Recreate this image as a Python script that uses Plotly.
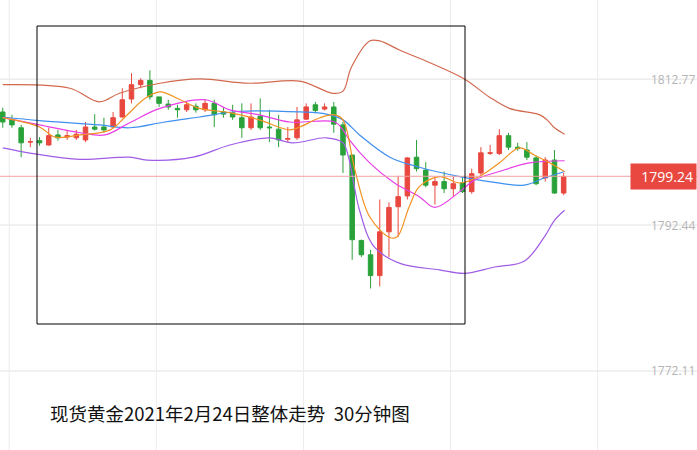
import plotly.graph_objects as go

# candle data (30 min bars)
opens = [1808.2, 1807.1, 1806.0, 1804.0, 1804.2, 1803.6, 1805.0, 1804.7, 1804.6, 1804.3,
         1806.1, 1806.1, 1806.1, 1807.5, 1810.0, 1812.0, 1812.6, 1810.3, 1809.3, 1808.7,
         1808.5, 1809.0, 1808.5, 1809.4, 1808.2, 1808.1, 1807.4, 1806.0, 1807.6, 1806.1,
         1805.8, 1804.4, 1804.6, 1807.2, 1809.2, 1808.6, 1808.9, 1806.4, 1802.2, 1790.3,
         1788.3, 1785.4, 1791.5, 1795.0, 1796.5, 1801.9, 1800.1, 1798.0, 1798.5, 1797.5,
         1798.3, 1797.1, 1799.7, 1802.45, 1802.4, 1804.9, 1803.3, 1802.9, 1801.8, 1799.0,
         1801.5, 1796.9]
closes = [1806.8, 1806.4, 1803.9, 1804.05, 1803.9, 1804.9, 1804.6, 1804.9, 1805.1, 1806.1,
          1805.8, 1805.7, 1807.4, 1809.9, 1812.0, 1812.6, 1810.3, 1809.4, 1808.9, 1808.5,
          1809.2, 1808.5, 1809.4, 1807.8, 1807.9, 1807.5, 1806.0, 1807.5, 1806.0, 1806.0,
          1804.3, 1804.5, 1807.1, 1808.9, 1808.4, 1808.9, 1806.5, 1802.2, 1790.4, 1788.3,
          1785.4, 1791.5, 1794.9, 1796.4, 1801.8, 1800.3, 1798.0, 1798.5, 1797.5, 1798.2,
          1797.1, 1799.6, 1802.5, 1802.5, 1804.9, 1803.3, 1803.1, 1801.9, 1798.2, 1801.5,
          1796.9, 1799.2]
highs = [1808.8, 1807.8, 1806.4, 1804.6, 1804.7, 1806.0, 1805.7, 1805.7, 1805.7, 1806.8,
         1807.9, 1807.4, 1808.2, 1811.5, 1813.6, 1812.9, 1814.0, 1810.3, 1809.9, 1809.2,
         1809.6, 1809.4, 1810.0, 1809.9, 1808.8, 1809.2, 1809.4, 1809.4, 1810.1, 1808.5,
         1807.8, 1806.1, 1808.9, 1809.4, 1809.6, 1809.4, 1809.6, 1806.8, 1802.2, 1790.4,
         1789.0, 1796.0, 1795.6, 1799.3, 1801.9, 1804.3, 1801.2, 1799.0, 1799.9, 1799.2,
         1799.2, 1800.3, 1803.3, 1803.6, 1805.8, 1805.3, 1803.9, 1804.0, 1802.1, 1801.9,
         1802.9, 1799.7]
lows = [1806.0, 1806.0, 1801.9, 1803.3, 1803.5, 1803.5, 1804.2, 1804.3, 1804.3, 1804.0,
        1805.6, 1805.3, 1806.0, 1807.4, 1809.4, 1811.5, 1809.9, 1808.9, 1808.5, 1807.4,
        1808.2, 1808.1, 1808.2, 1806.1, 1807.4, 1807.1, 1804.6, 1805.7, 1805.7, 1804.0,
        1803.3, 1804.0, 1804.3, 1807.1, 1808.1, 1808.4, 1805.3, 1799.7, 1787.6, 1788.0,
        1783.6, 1783.9, 1788.0, 1790.8, 1796.0, 1799.9, 1797.7, 1795.3, 1796.9, 1796.4,
        1796.9, 1796.8, 1799.4, 1802.2, 1802.2, 1802.9, 1802.8, 1801.5, 1798.0, 1798.5,
        1796.8, 1796.6]
bars = list(range(len(opens)))

# indicator lines (bar index, price)
boll_up_x = [0, 7.3, 10.5, 12.7, 17.1, 21.4, 26.8, 32.3, 35.9, 37, 37.9, 39.9, 41, 43.2,
             46.4, 50.2, 52.9, 55.1, 58.4, 59.2, 60, 61.1]
boll_up_y = [1812.0, 1811.5, 1809.6, 1810.8, 1812.2, 1812.8, 1812.2, 1812.5, 1810.8, 1811.1,
             1814.4, 1818.1, 1818.1, 1816.8, 1815.1, 1812.8, 1810.3, 1808.7, 1807.8, 1807.1,
             1806.0, 1805.1]
boll_dn_x = [0, 3.3, 8.4, 13.8, 15.7, 20.7, 24.7, 29, 31.5, 35.2, 37, 37.6, 38.8, 40.4, 43.2,
             47.5, 50.2, 53.5, 56.7, 58.9, 60, 61.1]
boll_dn_y = [1803.2, 1802.4, 1801.6, 1801.9, 1801.5, 1801.9, 1803.6, 1804.6, 1803.9, 1804.6,
             1803.9, 1801.9, 1794.5, 1789.4, 1787.1, 1786.2, 1785.7, 1786.6, 1787.4, 1790.8,
             1793.1, 1794.5]
ma20_x = [0, 4, 10.5, 13.8, 17.6, 21.4, 25.8, 32.3, 35.2, 37, 38.8, 42.1, 45.3, 49.7, 52.9,
          56.7, 58.9, 61.1]
ma20_y = [1807.5, 1807.0, 1806.4, 1806.0, 1806.8, 1807.5, 1808.3, 1808.2, 1807.9, 1807.1,
          1805.0, 1801.9, 1800.5, 1799.2, 1798.5, 1798.0, 1799.0, 1799.9]
ma10_x = [0, 4, 8.4, 11.1, 13.8, 17.1, 22, 24.7, 27.9, 31.2, 36.1, 37, 37.7, 39.9, 42.6, 45.3,
          47, 49.7, 51.3, 54, 57.3, 61.1]
ma10_y = [1807.4, 1806.4, 1805.3, 1805.0, 1806.7, 1808.7, 1809.9, 1808.5, 1807.8, 1806.8,
          1806.8, 1805.7, 1804.3, 1801.1, 1798.3, 1796.4, 1794.9, 1797.1, 1798.7, 1799.9,
          1801.1, 1801.4]
ma5_x = [0, 4, 5.7, 8.4, 11.7, 13.3, 15.5, 17.1, 19.3, 21.4, 24.7, 27.9, 31.2, 32.3, 34.5,
         36.1, 37, 38.3, 39.9, 42.1, 42.9, 44.2, 45.3, 47.5, 49.7, 51.8, 54, 56.2, 57.8, 59.5, 61.1]
ma5_y = [1807.4, 1806.1, 1804.7, 1805.0, 1805.7, 1807.5, 1810.1, 1811.0, 1809.9, 1808.7,
         1808.1, 1807.1, 1805.7, 1806.1, 1807.4, 1807.8, 1807.1, 1800.1, 1793.6, 1790.7,
         1790.8, 1795.0, 1797.8, 1799.2, 1798.3, 1799.2, 1801.1, 1803.2, 1802.2, 1801.1, 1799.9]

grid_levels = [1812.77, 1792.44, 1772.11]
last_price = 1799.24
caption = "现货黄金2021年2月24日整体走势  30分钟图"

fig = go.Figure()
lines = [(boll_up_x, boll_up_y, "#d2694f"), (boll_dn_x, boll_dn_y, "#a05ce6"),
         (ma20_x, ma20_y, "#3f8ff0"), (ma10_x, ma10_y, "#e83ee6"), (ma5_x, ma5_y, "#f29222")]
for lx, ly, col in lines:
    fig.add_trace(go.Scatter(x=lx, y=ly, mode="lines", line=dict(color=col, width=1.2, shape="spline"),
                             hoverinfo="skip", showlegend=False))

fig.add_trace(go.Candlestick(
    x=bars, open=opens, high=highs, low=lows, close=closes,
    increasing=dict(line=dict(color="#e8483f", width=1), fillcolor="#e8483f"),
    decreasing=dict(line=dict(color="#2aa23a", width=1), fillcolor="#2aa23a"),
    whiskerwidth=0, showlegend=False))

for g in grid_levels:
    fig.add_hline(y=g, line=dict(color="#e2e2e2", width=1), layer="below")
    fig.add_annotation(x=1, xref="paper", y=g, text=f"{g:.2f}", showarrow=False,
                       xanchor="right", yanchor="middle", font=dict(size=12, color="#b5b5b5"))
for vx in [1, 17, 33, 49, 65]:
    fig.add_vline(x=vx - 0.3, line=dict(color="#ececec", width=1), layer="below")

fig.add_hline(y=last_price, line=dict(color="#f0a0a0", width=1))
fig.add_annotation(x=1, xref="paper", y=last_price, text=f"  {last_price:.2f}", showarrow=False,
                   xanchor="right", yanchor="middle", bgcolor="#e8483f", borderpad=3,
                   font=dict(size=14, color="white"))
fig.add_shape(type="path", xref="paper", yref="y",
              path=f"M 0.909,{last_price} L 0.924,{last_price + 1.5} L 0.924,{last_price - 1.5} Z",
              fillcolor="#e8483f", line=dict(width=0))

fig.add_shape(type="rect", xref="paper", yref="paper", x0=37 / 697, x1=465 / 697,
              y0=1 - 324 / 450, y1=1 - 26 / 450, line=dict(color="black", width=1))
fig.add_annotation(x=48 / 697, xref="paper", y=1 - 413 / 450, yref="paper", text=caption,
                   showarrow=False, xanchor="left", yanchor="middle",
                   font=dict(size=18.5, color="#111", family="Noto Sans CJK SC"))

fig.update_layout(
    width=697, height=450, margin=dict(l=0, r=0, t=0, b=0),
    plot_bgcolor="white", paper_bgcolor="white",
    xaxis=dict(range=[-0.3, 75.5], visible=False, rangeslider=dict(visible=False)),
    yaxis=dict(range=[1761.1, 1823.8], visible=False),
)
fig.write_html("out.html", config={"displayModeBar": False},
               post_script="document.body.style.margin='0';")
